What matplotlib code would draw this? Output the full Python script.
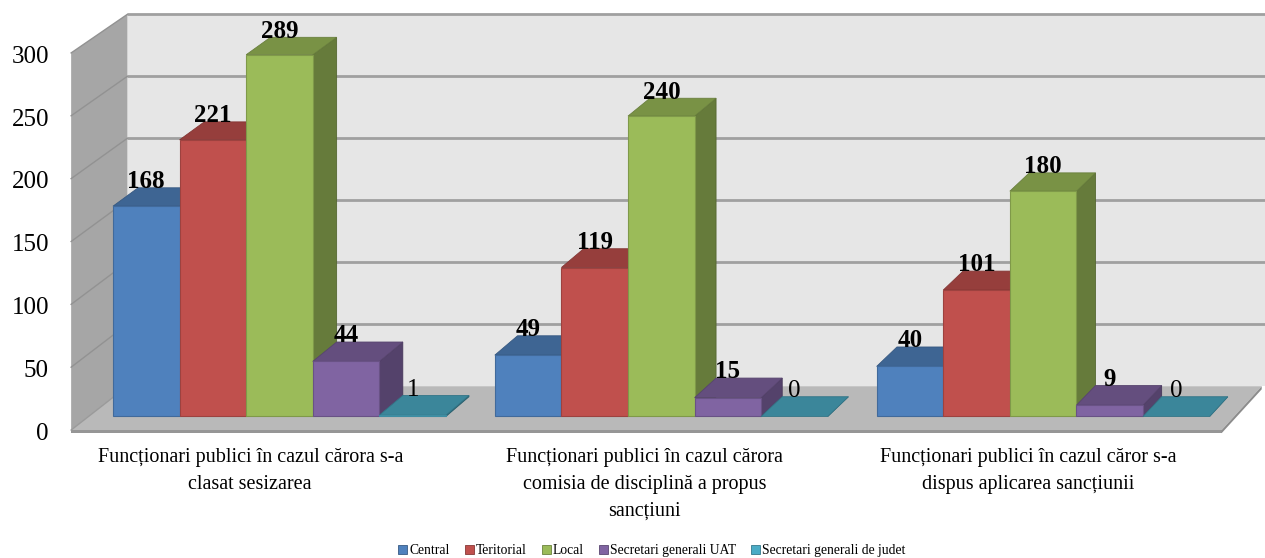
import numpy as np
import matplotlib
matplotlib.use("Agg")
import matplotlib.pyplot as plt
from matplotlib.patches import Polygon, Patch
from matplotlib.colors import to_rgb

# ---- data ----
categories = [
    "Funcționari publici în cazul cărora s-a\nclasat sesizarea",
    "Funcționari publici în cazul cărora\ncomisia de disciplină a propus\nsancțiuni",
    "Funcționari publici în cazul căror s-a\ndispus aplicarea sancțiunii",
]
series_names = ["Central", "Teritorial", "Local",
                "Secretari generali UAT", "Secretari generali de judet"]
central = [168, 49, 40]
teritorial = [221, 119, 101]
local = [289, 240, 180]
secretari_uat = [44, 15, 9]
secretari_judet = [1, 0, 0]
y_ticks = [0, 50, 100, 150, 200, 250, 300]
series_colors = ["#4F81BD", "#C0504D", "#9BBB59", "#8064A2", "#4BACC6"]

series = [central, teritorial, local, secretari_uat, secretari_judet]

# ---- 3D look: simple perspective toward a far vanishing point ----
VP_X, VP_Y = 9.96, 2490.0      # vanishing point (category units, value units)
SHRINK = 0.014                 # scale loss from front (z=0) to back (z=1)
X_MIN, X_MAX = -0.5, 2.5       # floor extent in category units
Y_MAX = 300
GROUP_W = 0.872
BAR_W = GROUP_W / len(series)
Z0, Z1 = 0.31, 0.76            # bar front / back depth
SERIF = "Liberation Serif"
LABEL_NUDGE = [-0.033, -0.005, -0.004]


def proj(x, v, z):
    s = 1.0 - SHRINK * z
    return VP_X + s * (x - VP_X), VP_Y + s * (v - VP_Y)


def poly(pts, **kw):
    xy = [proj(*p) for p in pts]
    return Polygon(xy, closed=True, **kw)


def shade(c, f):
    r, g, b = to_rgb(c)
    return (r * f, g * f, b * f)


fig = plt.figure(figsize=(12.65, 5.58), dpi=100)
ax = fig.add_axes([0, 0, 1, 1])
ax.set_xlim(-0.6855, 2.6130)
ax.set_ylim(-101.8, 342.1)
ax.axis("off")

# back wall
x_back_right = 2.75
ax.add_patch(poly([(X_MIN, 0, 1), (x_back_right, 0, 1), (x_back_right, Y_MAX, 1), (X_MIN, Y_MAX, 1)],
                  facecolor="#e6e6e6", edgecolor="none", zorder=1))
# left side wall
ax.add_patch(poly([(X_MIN, 0, 0), (X_MIN, 0, 1), (X_MIN, Y_MAX, 1), (X_MIN, Y_MAX, 0)],
                  facecolor="#a6a6a6", edgecolor="none", zorder=1))

# gridlines on both walls
for t in y_ticks[1:]:
    xa, ya = proj(X_MIN, t, 1)
    xb, yb = proj(x_back_right, t, 1)
    ax.plot([xa, xb], [ya, yb], color="#a0a0a0", lw=2.0, zorder=2, solid_capstyle="butt")
    xc, yc = proj(X_MIN, t, 0)
    ax.plot([xc, xa], [yc, ya], color="#929292", lw=1.0, zorder=2)

# floor slab
ax.add_patch(poly([(X_MIN, 0, 0), (X_MAX, 0, 0), (X_MAX, 0, 1), (X_MIN, 0, 1)],
                  facecolor="#b9b9b9", edgecolor="none", zorder=3))
ax.add_patch(poly([(X_MIN, -2.5, 0), (X_MAX, -2.5, 0), (X_MAX, 0, 0), (X_MIN, 0, 0)],
                  facecolor="#969696", edgecolor="none", zorder=3))
ax.add_patch(poly([(X_MAX, -2.5, 0), (X_MAX, -2.5, 1), (X_MAX, 0, 1), (X_MAX, 0, 0)],
                  facecolor="#8c8c8c", edgecolor="none", zorder=3))
# line where side wall meets floor
xa, ya = proj(X_MIN, 0, 0)
xb, yb = proj(X_MIN, 0, 1)
ax.plot([xa, xb], [ya, yb], color="#9a9a9a", lw=1.0, zorder=3)

# bars, drawn left to right so each covers its neighbour's side face
z = 10
for gi in range(len(categories)):
    left0 = gi - GROUP_W / 2
    for si, vals in enumerate(series):
        h = vals[gi]
        col = series_colors[si]
        xl = left0 + si * BAR_W
        xr = xl + BAR_W
        edge = shade(col, 0.82)
        # right side face
        ax.add_patch(poly([(xr, 0, Z0), (xr, 0, Z1), (xr, h, Z1), (xr, h, Z0)],
                          facecolor=shade(col, 0.66), edgecolor=shade(col, 0.55), lw=0.6, zorder=z))
        # top face
        ax.add_patch(poly([(xl, h, Z0), (xr, h, Z0), (xr, h, Z1), (xl, h, Z1)],
                          facecolor=shade(col, 0.78), edgecolor=shade(col, 0.68), lw=0.6, zorder=z))
        # front face
        if h > 0:
            ax.add_patch(poly([(xl, 0, Z0), (xr, 0, Z0), (xr, h, Z0), (xl, h, Z0)],
                              facecolor=col, edgecolor=edge, lw=0.8, zorder=z))
        z += 1
        # value label
        xc, _ = proj((xl + xr) / 2, h, Z0)
        _, yt = proj(xl, h, Z1)
        bold = si < len(series) - 1
        ax.text(xc, yt - 0.3, f"{h}", ha="center", va="baseline", fontsize=18,
                family=SERIF, fontweight="bold" if bold else "normal",
                color="black", zorder=100)

# value axis labels
for t in y_ticks:
    x0, y0 = proj(X_MIN, t, 0)
    ax.text(x0 - 0.058, y0 - 3.0, f"{t}", ha="right", va="center",
            fontsize=18, family=SERIF, color="black")

# category labels
for gi, cat in enumerate(categories):
    ax.text(gi + LABEL_NUDGE[gi], -14.5, cat, ha="center", va="top", fontsize=14.5,
            family=SERIF, linespacing=1.55, color="black")

# legend
handles = [Patch(facecolor=c, edgecolor=shade(c, 0.7), lw=0.6) for c in series_colors]
fig.legend(handles, series_names, loc="lower center", bbox_to_anchor=(0.5155, -0.02),
           ncol=5, frameon=False, prop={"family": SERIF, "size": 9.8},
           handlelength=0.65, handleheight=0.65, handletextpad=0.15, columnspacing=1.12)

fig.savefig("out.png", dpi=100)
